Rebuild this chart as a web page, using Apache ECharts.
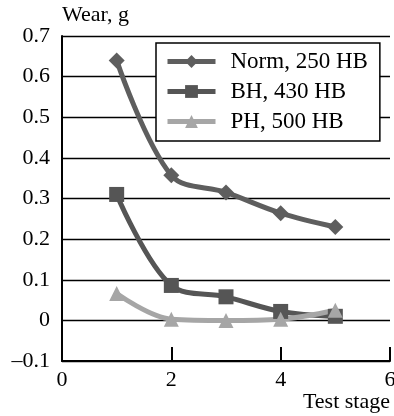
<!DOCTYPE html>
<html>
<head>
<meta charset="utf-8">
<script src="https://cdn.jsdelivr.net/npm/echarts@6/dist/echarts.min.js"></script>
<style>
  html, body { margin: 0; padding: 0; background: #fff; }
  #chart { width: 394px; height: 416px; }
</style>
</head>
<body>
<div id="chart"></div>
<script>
const stages = [1, 2, 3, 4, 5];
const normWear = [0.64, 0.357, 0.315, 0.264, 0.23];
const bhWear = [0.31, 0.086, 0.058, 0.022, 0.01];
const phWear = [0.066, 0.003, 0.0, 0.003, 0.025];
const seriesNames = ['Norm, 250 HB', 'BH, 430 HB', 'PH, 500 HB'];

const chart = echarts.init(document.getElementById('chart'));
const font = 'Liberation Serif';

const toPoints = (vals) => stages.map((s, i) => [s, vals[i]]);

const makeSeries = (name, vals, symbol, color, size) => ({
  name: name,
  type: 'line',
  data: toPoints(vals),
  smooth: 0.35,
  symbol: symbol,
  symbolSize: size,
  lineStyle: { color: color, width: 5 },
  itemStyle: { color: color },
  z: 3
});

const option = {
  animation: false,
  textStyle: { fontFamily: font },
  grid: { left: 62, right: 4, top: 36, bottom: 55, outerBoundsMode: 'none', containLabel: false },
  legend: {
    orient: 'vertical',
    left: 156,
    top: 43,
    backgroundColor: '#fff',
    borderColor: '#000',
    borderWidth: 1.5,
    borderRadius: 0,
    padding: [7, 12, 8, 9],
    itemGap: 7,
    itemWidth: 48,
    itemHeight: 16,
    lineStyle: { width: 5 },
    data: seriesNames,
    textStyle: { fontFamily: font, fontSize: 23, color: '#000', lineHeight: 22, padding: [0, 0, 0, 10] }
  },
  xAxis: {
    type: 'value',
    min: 0,
    max: 6,
    interval: 2,
    name: 'Test stage',
    nameLocation: 'end',
    nameGap: 0,
    nameTextStyle: { fontFamily: font, fontSize: 22, color: '#000', align: 'right', verticalAlign: 'top', padding: [30, 0, 0, 0] },
    axisLine: { onZero: false, lineStyle: { color: '#000', width: 2 } },
    axisTick: { inside: true, length: 14, lineStyle: { color: '#000', width: 2 } },
    axisLabel: { fontFamily: font, fontSize: 22, color: '#000', margin: 8 },
    splitLine: { show: false }
  },
  yAxis: {
    type: 'value',
    min: -0.1,
    max: 0.7,
    interval: 0.1,
    name: 'Wear, g',
    nameLocation: 'end',
    nameGap: 10,
    nameTextStyle: { fontFamily: font, fontSize: 22, color: '#000', align: 'left' },
    axisLine: { show: true, lineStyle: { color: '#000', width: 2 } },
    axisTick: { show: false },
    axisLabel: {
      fontFamily: font, fontSize: 22, color: '#000', margin: 12,
      formatter: (v) => {
        const r = Math.round(v * 10) / 10;
        if (r === 0) return '0';
        return r < 0 ? '\u2013' + Math.abs(r).toFixed(1) : r.toFixed(1);
      }
    },
    splitLine: { show: true, lineStyle: { color: '#000', width: 1.3 } }
  },
  series: [
    makeSeries(seriesNames[0], normWear, 'diamond', '#5e5e5e', 16),
    makeSeries(seriesNames[1], bhWear, 'rect', '#555555', 15),
    makeSeries(seriesNames[2], phWear, 'triangle', '#a6a6a6', 15)
  ]
};

chart.setOption(option);
</script>
</body>
</html>
